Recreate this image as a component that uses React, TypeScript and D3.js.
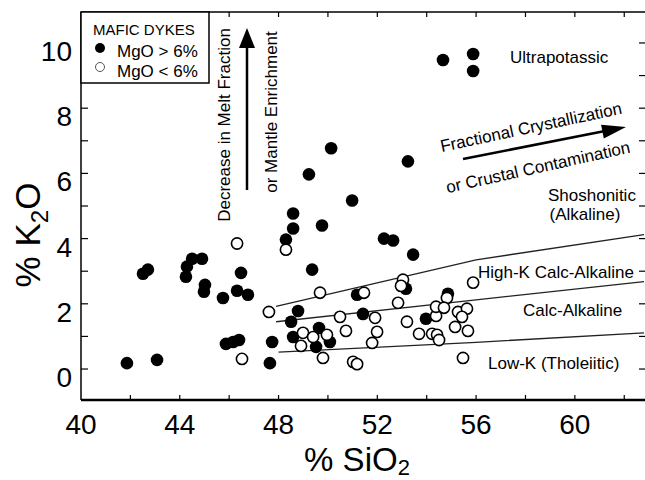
import React from "react";
import * as d3 from "d3";

// Filled symbols: MgO > 6%
const filledSiO2 = [41.86, 43.08, 42.51, 42.71, 44.25, 44.29, 44.5, 44.9, 45.02, 44.98, 45.75, 46.32, 46.76, 46.48, 45.87, 46.16, 46.4, 47.65, 47.74, 48.51, 48.79, 48.59, 49.64, 50.08, 49.52, 48.3, 48.59, 48.59, 49.23, 50.13, 49.76, 50.98, 49.36, 52.27, 52.64, 53.24, 53.45, 54.66, 55.88, 55.88, 51.18, 51.42, 53.16, 53.97, 54.86];
const filledK2O = [0.18, 0.28, 2.92, 3.05, 2.83, 3.14, 3.38, 3.38, 2.58, 2.37, 2.18, 2.4, 2.28, 2.95, 0.77, 0.83, 0.89, 0.18, 0.83, 1.45, 1.78, 0.98, 1.26, 0.83, 0.68, 3.97, 4.31, 4.77, 5.97, 6.77, 4.4, 5.17, 3.05, 4.0, 3.94, 6.37, 3.51, 9.48, 9.66, 9.14, 2.28, 1.69, 2.46, 1.54, 2.31];
// Open symbols: MgO < 6%
const openSiO2 = [46.32, 46.52, 47.61, 48.3, 49.68, 48.99, 49.4, 49.96, 48.91, 50.49, 50.73, 49.8, 51.46, 53.04, 52.96, 52.84, 51.91, 53.2, 54.38, 55.27, 55.63, 55.43, 51.99, 53.69, 54.22, 54.42, 54.5, 55.15, 55.67, 51.79, 51.02, 51.18, 55.47, 55.88, 54.82, 54.38, 54.7];
const openK2O = [3.85, 0.31, 1.75, 3.66, 2.34, 1.11, 0.98, 1.05, 0.71, 1.6, 1.17, 0.34, 2.34, 2.74, 2.55, 2.03, 1.57, 1.45, 1.63, 1.75, 1.85, 1.6, 1.14, 1.08, 1.08, 1.05, 0.89, 1.29, 1.17, 0.8, 0.22, 0.15, 0.34, 2.65, 2.18, 1.91, 1.88];

// Boundary lines (SiO2, K2O)
const shoshoniticLine: [number, number][] = [[47.9, 1.92], [56, 3.35], [62.8, 4.12]];
const highKLine: [number, number][] = [[47.9, 1.45], [56, 2.12], [62.8, 2.68]];
const lowKLine: [number, number][] = [[48, 0.52], [56, 0.82], [62.8, 1.11]];

const xTickLabels = [40, 44, 48, 52, 56, 60];
const yTickLabels = [0, 2, 4, 6, 8, 10];
const xMinorTicks = [42, 44, 46, 48, 50, 52, 54, 56, 58, 60, 62];
const yMinorTicks = [0, 1, 2, 3, 4, 5, 6, 7, 8, 9, 10];

const FONT = "'Liberation Sans', Arial, Helvetica, sans-serif";

export default function App() {
  const x = d3.scaleLinear().domain([40, 62.8]).range([81, 644]);
  const y = d3.scaleLinear().domain([-0.95, 10.95]).range([400, 12]);
  const line = d3.line<[number, number]>().x((d) => x(d[0])).y((d) => y(d[1]));

  const top = y(10.95);
  const bottom = y(-0.95);
  const left = x(40);
  const right = 644;

  const arrowHead = (x1: number, y1: number, x2: number, y2: number, len: number, w: number) => {
    const a = Math.atan2(y2 - y1, x2 - x1);
    const bx = x2 - len * Math.cos(a);
    const by = y2 - len * Math.sin(a);
    const px = -Math.sin(a) * w / 2;
    const py = Math.cos(a) * w / 2;
    return `M${x2},${y2}L${bx + px},${by + py}L${bx - px},${by - py}Z`;
  };

  return (
    <svg width={645} height={480} style={{ position: "absolute", left: 0, top: 0, background: "#fff" }} fontFamily={FONT}>
      <rect x={0} y={0} width={645} height={480} fill="#fff" />
      {/* frame */}
      <line x1={left} x2={right + 2} y1={top} y2={top} stroke="#000" strokeWidth={1.5} />
      <line x1={left} x2={left} y1={top} y2={bottom} stroke="#000" strokeWidth={1.5} />
      <line x1={left} x2={645} y1={bottom} y2={bottom} stroke="#000" strokeWidth={2.5} />
      {xMinorTicks.map((t) => (
        <g key={"xt" + t}>
          <line x1={x(t)} x2={x(t)} y1={bottom} y2={bottom - 5} stroke="#000" strokeWidth={1.2} />
          <line x1={x(t)} x2={x(t)} y1={top} y2={top + 5} stroke="#000" strokeWidth={1.2} />
        </g>
      ))}
      {yMinorTicks.map((t) => (
        <g key={"yt" + t}>
          <line x1={left} x2={left + 7} y1={y(t)} y2={y(t)} stroke="#000" strokeWidth={1.2} />
          <line x1={645} x2={639} y1={y(t)} y2={y(t)} stroke="#000" strokeWidth={1.2} />
        </g>
      ))}
      {xTickLabels.map((t) => (
        <text key={"xl" + t} x={x(t)} y={434} textAnchor="middle" fontSize={28}>{t}</text>
      ))}
      {yTickLabels.map((t) => (
        <text key={"yl" + t} x={72} y={y(t) + 18} textAnchor="end" fontSize={28}>{t}</text>
      ))}
      {/* axis titles */}
      <text x={357} y={471} textAnchor="middle" fontSize={33}>
        % SiO<tspan fontSize={22} dy={4}>2</tspan>
      </text>
      <text transform="translate(40,235) rotate(-90)" textAnchor="middle" fontSize={35}>
        % K<tspan fontSize={24} dy={8}>2</tspan><tspan dy={-8}>O</tspan>
      </text>

      {/* boundary lines */}
      {[shoshoniticLine, highKLine, lowKLine].map((l, i) => (
        <path key={"bl" + i} d={line(l) || ""} fill="none" stroke="#222" strokeWidth={1.3} />
      ))}

      {/* points */}
      {filledSiO2.map((s, i) => (
        <circle key={"f" + i} cx={x(s)} cy={y(filledK2O[i])} r={6.3} fill="#000" />
      ))}
      {openSiO2.map((s, i) => (
        <circle key={"o" + i} cx={x(s)} cy={y(openK2O[i])} r={5.6} fill="#fff" stroke="#000" strokeWidth={1.6} />
      ))}

      {/* legend */}
      <rect x={left} y={top} width={128} height={71} fill="#fff" stroke="#000" strokeWidth={1.5} />
      <text x={93} y={35} fontSize={15}>MAFIC DYKES</text>
      <circle cx={100} cy={48} r={5} fill="#000" />
      <text x={117} y={57} fontSize={17}>MgO &gt; 6%</text>
      <circle cx={100} cy={67} r={4.5} fill="#fff" stroke="#555" strokeWidth={1} />
      <text x={117} y={77} fontSize={17}>MgO &lt; 6%</text>

      {/* vertical arrow */}
      <line x1={247} x2={247} y1={190} y2={44} stroke="#000" strokeWidth={2.5} />
      <path d={arrowHead(247, 190, 247, 28, 20, 16)} fill="#000" />
      <text transform="translate(230,125) rotate(-90)" textAnchor="middle" fontSize={17}>Decrease in Melt Fraction</text>
      <text transform="translate(277,112) rotate(-90)" textAnchor="middle" fontSize={17}>or Mantle Enrichment</text>

      {/* diagonal arrow */}
      <line x1={463} y1={159} x2={605} y2={131} stroke="#000" strokeWidth={2.5} />
      <path d={arrowHead(463, 159, 626, 127, 24, 14)} fill="#000" />
      <text transform="translate(531,127) rotate(-12)" textAnchor="middle" dy="0.35em" fontSize={17}>Fractional Crystallization</text>
      <text transform="translate(538,167) rotate(-12.5)" textAnchor="middle" dy="0.35em" fontSize={17}>or Crustal Contamination</text>

      {/* field labels */}
      <text x={510} y={63} fontSize={17}>Ultrapotassic</text>
      <text x={548} y={201} fontSize={17}>Shoshonitic</text>
      <text x={585} y={220} textAnchor="middle" fontSize={17}>(Alkaline)</text>
      <text x={478} y={278} fontSize={17}>High-K Calc-Alkaline</text>
      <text x={523} y={316} fontSize={17}>Calc-Alkaline</text>
      <text x={488} y={369} fontSize={17}>Low-K (Tholeiitic)</text>
    </svg>
  );
}
